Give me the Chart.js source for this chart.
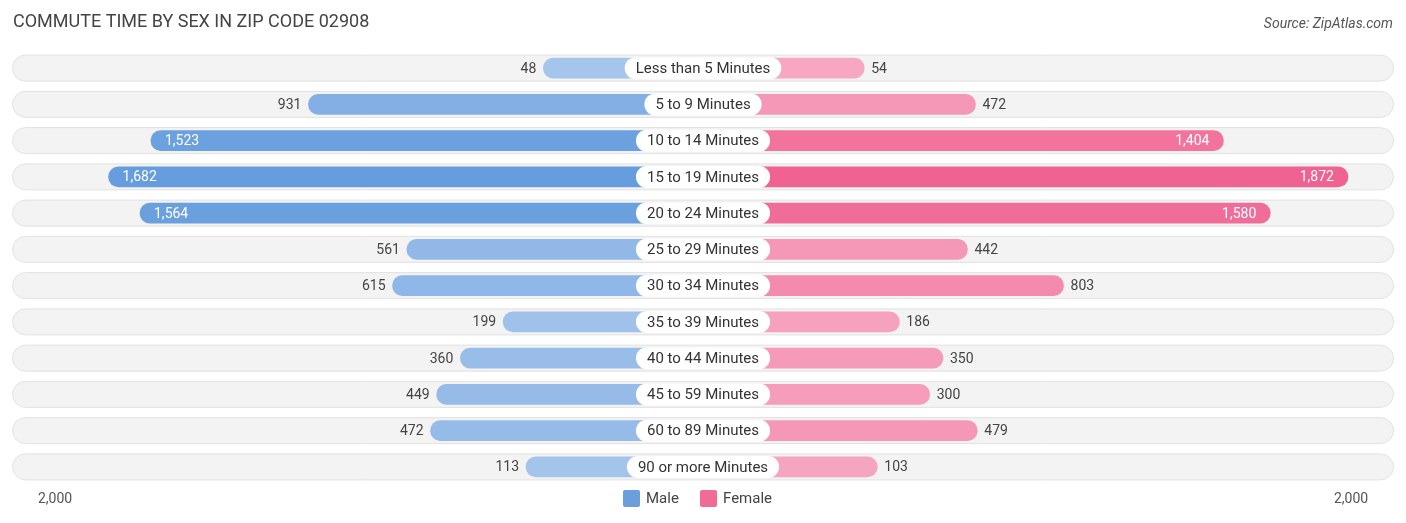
<!DOCTYPE html>
<html><head><meta charset="utf-8">
<script src="https://cdn.jsdelivr.net/npm/chart.js@4/dist/chart.umd.min.js"></script>
<style>html,body{margin:0;padding:0;background:#fff}#w{width:1406px;height:523px}</style>
</head><body><div id="w"><canvas id="c"></canvas></div>
<script>
const categories=["Less than 5 Minutes","5 to 9 Minutes","10 to 14 Minutes","15 to 19 Minutes","20 to 24 Minutes","25 to 29 Minutes","30 to 34 Minutes","35 to 39 Minutes","40 to 44 Minutes","45 to 59 Minutes","60 to 89 Minutes","90 or more Minutes"];
const male=[48,931,1523,1682,1564,561,615,199,360,449,472,113];
const female=[54,472,1404,1872,1580,442,803,186,350,300,479,103];
const axisMax=2000;
const OFF=552; // space under the centre label, in value units
const maxV=Math.max(...male,...female);
function col(base,v){const t=0.55+0.45*(v/maxV);const m=c=>Math.round(255-(255-c)*t);return `rgb(${m(base[0])},${m(base[1])},${m(base[2])})`;}
const MB=[95,152,220],FB=[240,98,145];
const fmt=v=>v.toLocaleString('en-US');
const deco={id:'deco',
beforeDatasetsDraw(ch){const {ctx,scales:{y}}=ch;ctx.save();
 categories.forEach((c,i)=>{const yc=y.getPixelForValue(i);ctx.fillStyle='#f3f3f3';ctx.strokeStyle='#e2e2e2';ctx.lineWidth=1;ctx.beginPath();ctx.roundRect(12.5,yc-13,1381,26,13);ctx.fill();ctx.stroke();});
 ctx.restore();},
afterDatasetsDraw(ch){const {ctx,scales:{x,y}}=ch;ctx.save();ctx.textBaseline='middle';
 const cx=x.getPixelForValue(0);
 categories.forEach((c,i)=>{const yc=y.getPixelForValue(i);
  ctx.font='15px Roboto';const w=ctx.measureText(c).width+22;
  ctx.fillStyle='#fff';ctx.beginPath();ctx.roundRect(cx-w/2,yc-11,w,22,11);ctx.fill();
  ctx.fillStyle='#333';ctx.textAlign='center';ctx.fillText(c,cx,yc+1);
  ctx.font='14px Roboto';
  const mx=x.getPixelForValue(-(OFF+male[i]));
  if(male[i]>1000){ctx.fillStyle='#fff';ctx.textAlign='left';ctx.fillText(fmt(male[i]),mx+14,yc+1);}
  else{ctx.fillStyle='#444';ctx.textAlign='right';ctx.fillText(fmt(male[i]),mx-7,yc+1);}
  const fx=x.getPixelForValue(OFF+female[i]);
  if(female[i]>1000){ctx.fillStyle='#fff';ctx.textAlign='right';ctx.fillText(fmt(female[i]),fx-14,yc+1);}
  else{ctx.fillStyle='#444';ctx.textAlign='left';ctx.fillText(fmt(female[i]),fx+7,yc+1);}
 });
 ctx.font='14px Roboto';ctx.fillStyle='#555';ctx.textAlign='center';
 ctx.fillText(fmt(axisMax),55,499);ctx.fillText(fmt(axisMax),1351,499);
 ctx.fillStyle='#6a9fdc';ctx.beginPath();ctx.roundRect(623,490,17,17,2);ctx.fill();
 ctx.fillStyle='#f06b96';ctx.beginPath();ctx.roundRect(700,490,17,17,2);ctx.fill();
 ctx.fillStyle='#444';ctx.font='15px Roboto';ctx.textAlign='left';ctx.fillText('Male',646,499);ctx.fillText('Female',723,499);
 ctx.font='18px Roboto';ctx.fillStyle='#444';ctx.fillText('COMMUTE TIME BY SEX IN ZIP CODE 02908',13,22);
 ctx.font='italic 14px Roboto';ctx.fillStyle='#555';ctx.textAlign='right';ctx.fillText('Source: ZipAtlas.com',1393,24);
 ctx.restore();}};
new Chart(document.getElementById('c'),{type:'bar',
data:{labels:categories,datasets:[
 {label:'Male',data:male.map(v=>[0,-(OFF+v)]),backgroundColor:male.map(v=>col(MB,v)),borderRadius:10,borderSkipped:false,barThickness:20,grouped:false},
 {label:'Female',data:female.map(v=>[0,OFF+v]),backgroundColor:female.map(v=>col(FB,v)),borderRadius:10,borderSkipped:false,barThickness:20,grouped:false}]},
options:{indexAxis:'y',responsive:true,maintainAspectRatio:false,animation:false,
 layout:{padding:{left:24,right:24,top:50,bottom:38}},
 plugins:{legend:{display:false},tooltip:{enabled:false}},
 scales:{x:{min:-(OFF+axisMax),max:OFF+axisMax,display:false},y:{display:false}}},
plugins:[deco]});
</script></body></html>
